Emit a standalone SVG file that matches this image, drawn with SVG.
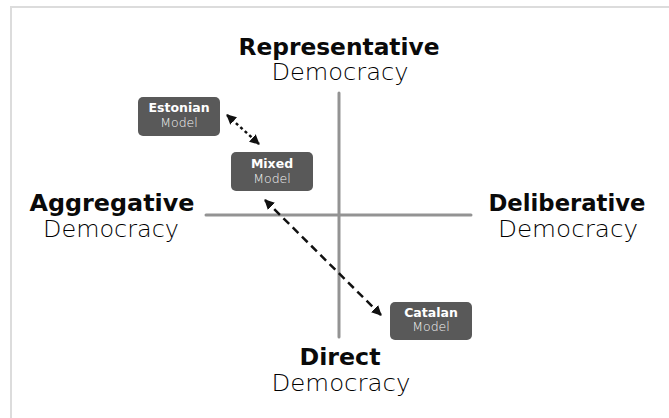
<svg xmlns="http://www.w3.org/2000/svg" width="669" height="418" viewBox="0 0 669 418">
<style>
.frame{fill:none;stroke:#dcdcdc;stroke-width:2}
.axis{stroke:#939393;stroke-width:3;stroke-linecap:round}
.box{fill:#595959}
.bt{font-family:"DejaVu Sans",sans-serif;font-weight:bold;font-size:12.5px;fill:#fff;text-anchor:middle}
.bl{font-family:"DejaVu Sans",sans-serif;font-weight:200;font-size:12.5px;fill:#f4f4f4;text-anchor:middle}
.ht{font-family:"DejaVu Sans",sans-serif;font-weight:bold;font-size:23px;fill:#0a0a0a;text-anchor:middle}
.hl{font-family:"DejaVu Sans",sans-serif;font-weight:200;font-size:23.5px;fill:#000;text-anchor:middle}
.dot{fill:none;stroke:#111;stroke-width:2.5;stroke-dasharray:3 3}
.dash{fill:none;stroke:#111;stroke-width:2.5;stroke-dasharray:8 5}
</style>
<defs>
<marker id="ah" viewBox="0 0 10 10" refX="9" refY="5" markerWidth="4" markerHeight="4" orient="auto-start-reverse">
<path d="M0,0 L10,5 L0,10 z" fill="#111"/>
</marker>
</defs>
<rect width="669" height="418" fill="#fff"/>
<path class="frame" d="M11,420 L11,7 L670,7"/>
<g id="axes">
<line class="axis" x1="339" y1="93" x2="339" y2="337"/>
<line class="axis" x1="206" y1="215" x2="471" y2="215"/>
</g>
<g id="representative">
<text class="ht" x="339" y="55" textLength="201" lengthAdjust="spacingAndGlyphs">Representative</text>
<text class="hl" x="340" y="80" textLength="137" lengthAdjust="spacingAndGlyphs">Democracy</text>
</g>
<g id="aggregative">
<text class="ht" x="112" y="211" textLength="165" lengthAdjust="spacingAndGlyphs">Aggregative</text>
<text class="hl" x="111" y="237" textLength="136" lengthAdjust="spacingAndGlyphs">Democracy</text>
</g>
<g id="deliberative">
<text class="ht" x="567" y="211" textLength="157" lengthAdjust="spacingAndGlyphs">Deliberative</text>
<text class="hl" x="568" y="237" textLength="140" lengthAdjust="spacingAndGlyphs">Democracy</text>
</g>
<g id="direct">
<text class="ht" x="340" y="365" textLength="81" lengthAdjust="spacingAndGlyphs">Direct</text>
<text class="hl" x="341" y="391" textLength="139" lengthAdjust="spacingAndGlyphs">Democracy</text>
</g>
<g id="connectors">
<line class="dot" x1="227" y1="115" x2="259" y2="144" marker-start="url(#ah)" marker-end="url(#ah)"/>
<line class="dash" x1="265" y1="200" x2="381" y2="315" marker-start="url(#ah)" marker-end="url(#ah)"/>
</g>
<g id="estonian">
<rect class="box" x="138" y="97" width="82" height="39" rx="5"/>
<text class="bt" x="179" y="112">Estonian</text>
<text class="bl" x="179" y="127">Model</text>
</g>
<g id="mixed">
<rect class="box" x="231" y="152" width="82" height="39" rx="5"/>
<text class="bt" x="272" y="168">Mixed</text>
<text class="bl" x="272" y="183">Model</text>
</g>
<g id="catalan">
<rect class="box" x="390" y="302" width="82" height="38" rx="5"/>
<text class="bt" x="431" y="317">Catalan</text>
<text class="bl" x="431" y="331">Model</text>
</g>
</svg>
